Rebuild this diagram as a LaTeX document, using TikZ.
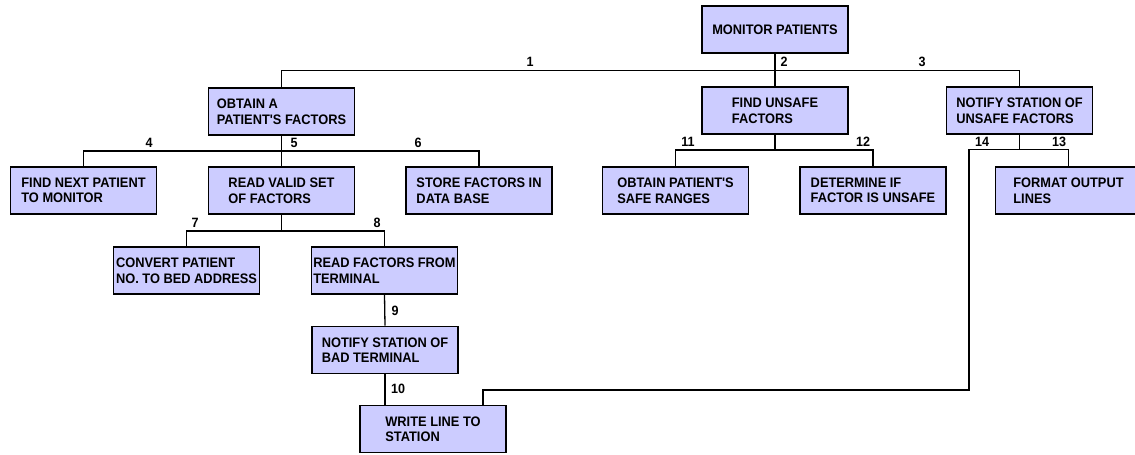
\documentclass[tikz,border=0pt]{standalone}
\usepackage{fontspec}
\setmainfont{Liberation Sans}
\newfontfamily\boxfont{Liberation Sans}[FakeStretch=0.93]
\definecolor{boxfill}{RGB}{204,204,255}
\begin{document}
\begin{tikzpicture}[x=1pt,y=-1pt,
  box/.style={draw=black, line width=1.8pt, fill=boxfill, align=left,
    minimum width=146pt, minimum height=47pt, inner sep=0pt,
    font=\boxfont\bfseries\fontsize{13.8}{15.5}\selectfont},
  conn/.style={draw=black, line width=1.3pt},
  num/.style={font=\boxfont\bfseries\fontsize{13.5}{14}\selectfont, inner sep=0pt}]
\useasboundingbox (0,0) rectangle (1135,455);
% boxes
\node[box] (mon) at (775,29.5) {MONITOR PATIENTS};
\node[box] (oap) at (281.5,111.5) {OBTAIN A\\PATIENT'S FACTORS};
\node[box] (fuf) at (775,110.5) {FIND UNSAFE\\FACTORS};
\node[box] (nsu) at (1019.5,110.5) {NOTIFY STATION OF\\UNSAFE FACTORS};
\node[box] (fnp) at (83.5,190.5) {FIND NEXT PATIENT\\TO MONITOR};
\node[box] (rvs) at (281.5,190.5) {READ VALID SET\\OF FACTORS};
\node[box] (sfd) at (479,190.5) {STORE FACTORS IN\\DATA BASE};
\node[box] (osr) at (675.5,190.5) {OBTAIN PATIENT'S\\SAFE RANGES};
\node[box] (dfu) at (873,190.5) {DETERMINE IF\\FACTOR IS UNSAFE};
\node[box] (fol) at (1068.5,190.5) {FORMAT OUTPUT\\LINES};
\node[box] (cpn) at (186.5,270.5) {CONVERT PATIENT\\NO. TO BED ADDRESS};
\node[box] (rft) at (384.5,270.5) {READ FACTORS FROM\\TERMINAL};
\node[box] (nsb) at (385,350) {NOTIFY STATION OF\\BAD TERMINAL};
\node[box] (wls) at (433,429) {WRITE LINE TO\\STATION};
% bar coordinates
\coordinate (b1) at (775,70.5);
\coordinate (b2) at (281.5,151);
\coordinate (b3) at (775,150);
\coordinate (b4) at (1019.5,149.5);
\coordinate (b5) at (281.5,231);
\coordinate (c14) at (969,149.5);
\coordinate (c14b) at (969,390);
% connectors
\draw[conn] (mon.south) -- (fuf.north);
\draw[conn] (oap.north) |- (b1) -| (nsu.north);
\draw[conn] (oap.south) -- (rvs.north);
\draw[conn] (fnp.north) |- (b2) -| (sfd.north);
\draw[conn] (fuf.south) -- (b3);
\draw[conn] (osr.north) |- (b3) -| (dfu.north);
\draw[conn] (nsu.south) -- (b4);
\draw[conn] (fol.north) |- (b4) -- (c14) -- (c14b) -| ([xshift=50]wls.north);
\draw[conn] (rvs.south) -- (b5);
\draw[conn] (cpn.north) |- (b5) -| (rft.north);
\draw[conn] (rft.south) -- (nsb.north);
\draw[conn] (nsb.south) -- (nsb.south |- wls.north);
% labels
\node[num] (n1) at (530,62) {1};
\node[num] (n2) at (784,62) {2};
\node[num] (n3) at (922,62) {3};
\node[num] (n4) at (149,143) {4};
\node[num] (n5) at (294,143) {5};
\node[num] (n6) at (418,143) {6};
\node[num] (n11) at (688,142) {11};
\node[num] (n12) at (863,142) {12};
\node[num] (n14) at (982,142) {14};
\node[num] (n13) at (1059,142) {13};
\node[num] (n7) at (195,223) {7};
\node[num] (n8) at (377,223) {8};
\node[num] (n9) at (395,311) {9};
\node[num] (n10) at (398,389) {10};
\end{tikzpicture}
\end{document}
